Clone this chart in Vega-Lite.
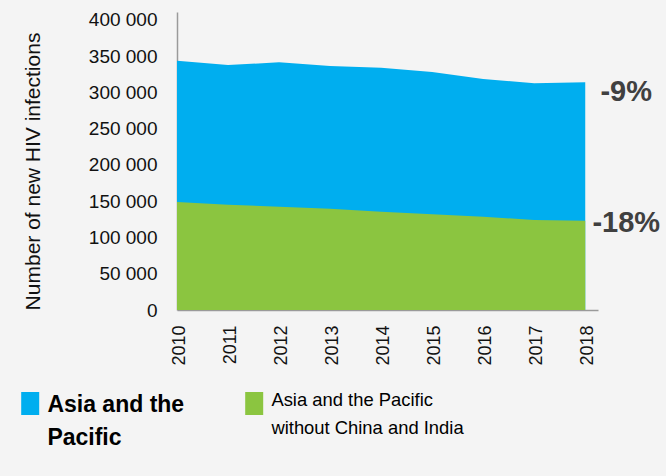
{
  "$schema": "https://vega.github.io/schema/vega-lite/v6.json",
  "autosize": {"type": "none"},
  "padding": {"left": 177, "top": 12, "right": 68, "bottom": 166},
  "width": 421,
  "height": 298,
  "background": "#f4f4f4",
  "config": {
    "font": "Liberation Sans",
    "view": {"stroke": null}
  },
  "data": {
    "values": [
      {"year": 2010, "region": "Asia and the Pacific", "value": 343900},
      {"year": 2011, "region": "Asia and the Pacific", "value": 337900},
      {"year": 2012, "region": "Asia and the Pacific", "value": 341600},
      {"year": 2013, "region": "Asia and the Pacific", "value": 336500},
      {"year": 2014, "region": "Asia and the Pacific", "value": 334200},
      {"year": 2015, "region": "Asia and the Pacific", "value": 328300},
      {"year": 2016, "region": "Asia and the Pacific", "value": 318600},
      {"year": 2017, "region": "Asia and the Pacific", "value": 312700},
      {"year": 2018, "region": "Asia and the Pacific", "value": 314100},
      {"year": 2010, "region": "Asia and the Pacific without China and India", "value": 149000},
      {"year": 2011, "region": "Asia and the Pacific without China and India", "value": 145200},
      {"year": 2012, "region": "Asia and the Pacific without China and India", "value": 142500},
      {"year": 2013, "region": "Asia and the Pacific without China and India", "value": 139700},
      {"year": 2014, "region": "Asia and the Pacific without China and India", "value": 135600},
      {"year": 2015, "region": "Asia and the Pacific without China and India", "value": 132000},
      {"year": 2016, "region": "Asia and the Pacific without China and India", "value": 128700},
      {"year": 2017, "region": "Asia and the Pacific without China and India", "value": 124100},
      {"year": 2018, "region": "Asia and the Pacific without China and India", "value": 123200}
    ]
  },
  "encoding": {
    "x": {
      "field": "year", "type": "quantitative",
      "scale": {"domain": [2010, 2018.25], "nice": false, "zero": false},
      "axis": {
        "title": null,
        "values": [2010, 2011, 2012, 2013, 2014, 2015, 2016, 2017, 2018],
        "format": "d",
        "labelAngle": 270,
        "labelAlign": "right",
        "labelBaseline": "middle",
        "labelFontSize": 18,
        "labelColor": "#111111",
        "labelPadding": 15,
        "labelOffset": 2,
        "ticks": false,
        "grid": false,
        "domainColor": "#9a9a9a",
        "domainWidth": 1.5,
        "labelOverlap": false,
        "labelFlush": false
      }
    },
    "y": {
      "field": "value", "type": "quantitative", "stack": null,
      "scale": {"domain": [0, 411000], "nice": false},
      "axis": {
        "title": "Number of new HIV infections",
        "titleFontSize": 21,
        "titleFontWeight": "normal",
        "titleColor": "#111111",
        "titleAngle": -90,
        "titleAlign": "center",
        "titleBaseline": "middle",
        "titleX": -144,
        "titleY": 159,
        "values": [0, 50000, 100000, 150000, 200000, 250000, 300000, 350000, 400000],
        "labelExpr": "replace(format(datum.value, ','), ',', ' ')",
        "labelFontSize": 19,
        "labelColor": "#111111",
        "labelPadding": 20,
        "labelOverlap": false,
        "labelFlush": false,
        "labelBound": false,
        "ticks": false,
        "grid": false,
        "domainColor": "#9a9a9a",
        "domainWidth": 1.5
      }
    }
  },
  "layer": [
    {
      "mark": {"type": "area", "opacity": 1},
      "encoding": {
        "color": {
          "field": "region", "type": "nominal",
          "scale": {
            "domain": ["Asia and the Pacific", "Asia and the Pacific without China and India"],
            "range": ["#00aeef", "#8bc540"]
          },
          "legend": {
            "title": null,
            "orient": "none",
            "legendX": -156,
            "legendY": 382,
            "direction": "horizontal",
            "columns": 2,
            "columnPadding": 60,
            "symbolType": "M-1,-1.28H1V1.28H-1Z M0,9",
            "symbolSize": 324,
            "symbolStrokeWidth": 0,
            "symbolOpacity": 1,
            "labelOffset": 8,
            "labelLimit": 400,
            "labelBaseline": "top",
            "labelColor": "#000000",
            "labelExpr": "datum.value == 'Asia and the Pacific' ? ['Asia and the', 'Pacific'] : ['Asia and the Pacific', 'without China and India']",
            "encode": {
              "labels": {
                "update": {
                  "fontWeight": {"signal": "datum.value == 'Asia and the Pacific' ? 'bold' : 'normal'"},
                  "fontSize": {"signal": "datum.value == 'Asia and the Pacific' ? 23 : 18.4"},
                  "lineHeight": {"signal": "datum.value == 'Asia and the Pacific' ? 33 : 28"},
                  "dy": {"signal": "datum.value == 'Asia and the Pacific' ? -9.5 : -12.4"}
                }
              }
            }
          }
        }
      }
    },
    {
      "transform": [{"filter": "datum.year == 2018 && datum.region == 'Asia and the Pacific'"}],
      "mark": {"type": "text", "fontSize": 29, "fontWeight": "bold", "color": "#404040", "align": "center", "baseline": "middle", "dx": 41, "dy": 10},
      "encoding": {
        "text": {"value": "-9%"}
      }
    },
    {
      "transform": [{"filter": "datum.year == 2018 && datum.region == 'Asia and the Pacific without China and India'"}],
      "mark": {"type": "text", "fontSize": 29, "fontWeight": "bold", "color": "#404040", "align": "center", "baseline": "middle", "dx": 41, "dy": 2},
      "encoding": {
        "text": {"value": "-18%"}
      }
    }
  ]
}
